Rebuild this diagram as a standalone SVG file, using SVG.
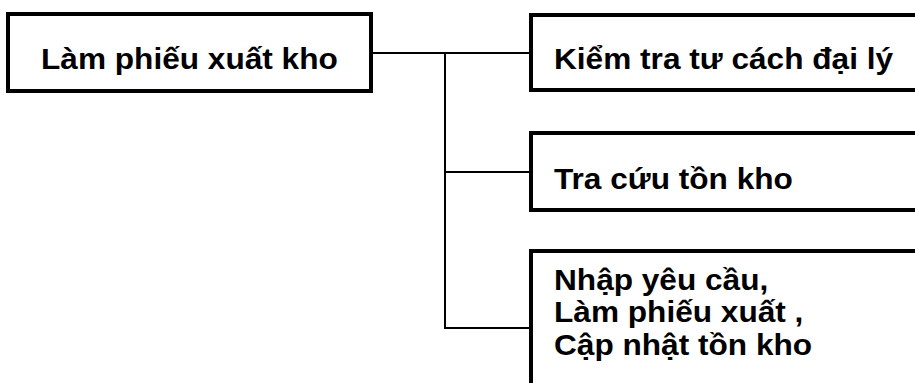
<svg xmlns="http://www.w3.org/2000/svg" width="915" height="383" viewBox="0 0 915 383">
  <style>
    .box { fill: #ffffff; stroke: #000000; stroke-width: 4; }
    .link { fill: none; stroke: #000000; stroke-width: 2; }
    .label { font-family: "Liberation Sans", Arial, sans-serif; font-weight: bold; font-size: 29px; fill: #000000; }
  </style>
  <rect width="915" height="383" fill="#ffffff"/>

  <!-- connectors: trunk from the parent box and three branches -->
  <g id="connectors">
    <line class="link" x1="372" y1="53" x2="530" y2="53"/>
    <line class="link" x1="445" y1="52" x2="445" y2="329"/>
    <line class="link" x1="444" y1="172" x2="530" y2="172"/>
    <line class="link" x1="444" y1="328" x2="530" y2="328"/>
  </g>

  <!-- labels are set slightly wide (horizontal scale 1.09) -->
  <g id="node-lam-phieu-xuat-kho">
    <rect class="box" x="8" y="14" width="363" height="77"/>
    <text class="label" transform="translate(41 69) scale(1.09 1)">Làm phiếu xuất kho</text>
  </g>

  <g id="node-kiem-tra">
    <rect class="box" x="531" y="15" width="400" height="75"/>
    <text class="label" transform="translate(554 69) scale(1.09 1)">Kiểm tra tư cách đại lý</text>
  </g>

  <g id="node-tra-cuu">
    <rect class="box" x="531" y="133" width="400" height="77"/>
    <text class="label" transform="translate(554 189) scale(1.09 1)">Tra cứu tồn kho</text>
  </g>

  <g id="node-nhap-yeu-cau">
    <rect class="box" x="531" y="251" width="400" height="160"/>
    <text class="label" transform="translate(554 290) scale(1.09 1)">Nhập yêu cầu,</text>
    <text class="label" transform="translate(554 322) scale(1.09 1)">Làm phiếu xuất ,</text>
    <text class="label" transform="translate(554 355) scale(1.09 1)">Cập nhật tồn kho</text>
  </g>
</svg>
